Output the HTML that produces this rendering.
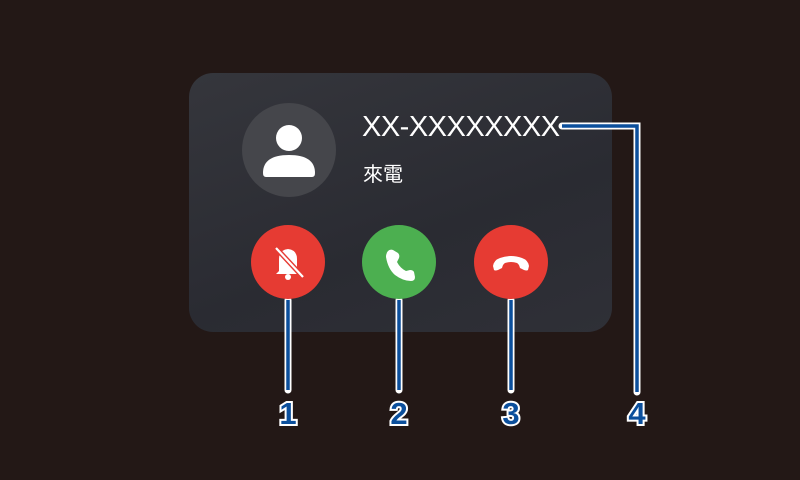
<!DOCTYPE html>
<html><head><meta charset="utf-8"><style>
html,body{margin:0;padding:0;}
body{width:800px;height:480px;background:#231816;position:relative;overflow:hidden;font-family:"Liberation Sans","Noto Sans CJK TC",sans-serif;}
.card{position:absolute;left:189px;top:73px;width:423px;height:259px;border-radius:24px;background:linear-gradient(160deg,#35363c,#2a2b32 60%,#2f3037);}
.t{position:absolute;color:#fff;}
.btn{position:absolute;width:74px;height:74px;border-radius:50%;top:225px;}
.num{position:absolute;top:396px;font-size:31px;font-weight:bold;color:#0b4f9c;-webkit-text-stroke:4px #fff;paint-order:stroke fill;width:30px;text-align:center;}
</style></head><body>
<div class="card"></div>
<div style="position:absolute;left:242px;top:103px;width:94px;height:94px;border-radius:50%;background:#45464b;"></div>
<svg style="position:absolute;left:242px;top:103px" width="94" height="94"><circle cx="47" cy="35" r="13" fill="#fff"/><path d="M21 70 Q21 52 47 52 Q73 52 73 70 Q73 74 70 74 L24 74 Q21 74 21 70Z" fill="#fff"/></svg>
<div class="t" style="left:362px;top:111px;font-size:29px;letter-spacing:-0.5px;">XX-XXXXXXXX</div>
<div class="t" style="left:363px;top:158px;font-size:20px;">來電</div>
<svg style="position:absolute;left:0;top:0" width="800" height="480">
<g stroke="#fff" stroke-width="7" fill="none" stroke-linecap="round"><path d="M288 300V390M399 300V390M511 300V390M562 126H637V392"/></g>
<g stroke="#0b4f9c" stroke-width="3.5" fill="none"><path d="M288 300V390M399 300V390M511 300V390M562 126H637V392"/></g>
</svg>
<div class="btn" style="left:251px;background:#e63b33;"></div>
<div class="btn" style="left:362px;background:#4caf50;"></div>
<div class="btn" style="left:474px;background:#e63b33;"></div>
<svg style="position:absolute;left:251px;top:225px" width="74" height="74"><path d="M28 46 L28 34 Q28 25 37 24 Q46 25 46 34 L46 46 L49 49 L25 49Z" fill="#fff"/><circle cx="37" cy="52" r="3" fill="#fff"/><path d="M25 23 L52 52" stroke="#e63b33" stroke-width="5"/><path d="M25 23 L52 52" stroke="#fff" stroke-width="2.2"/></svg>
<svg style="position:absolute;left:362px;top:225px" width="74" height="74"><path d="M26 26 Q24 28 24 32 Q26 44 33 50 Q41 56 49 56 Q53 56 53 52 L52 47 Q51 45 48 45 L44 46 Q38 43 35 37 L37 33 Q38 30 36 28 L31 25 Q28 24 26 26Z" fill="#fff"/></svg>
<svg style="position:absolute;left:474px;top:225px" width="74" height="74"><path d="M19 41 Q20 35 26 33 Q37 29 48 33 Q54 35 55 41 L54 45 Q53 46 50 45 L46 43 Q45 39 43 38 Q37 36 31 38 Q29 39 28 43 L24 45 Q21 46 20 45Z" fill="#fff"/></svg>
<div class="num" style="left:273px;">1</div>
<div class="num" style="left:384px;">2</div>
<div class="num" style="left:496px;">3</div>
<div class="num" style="left:622px;">4</div>
</body></html>
